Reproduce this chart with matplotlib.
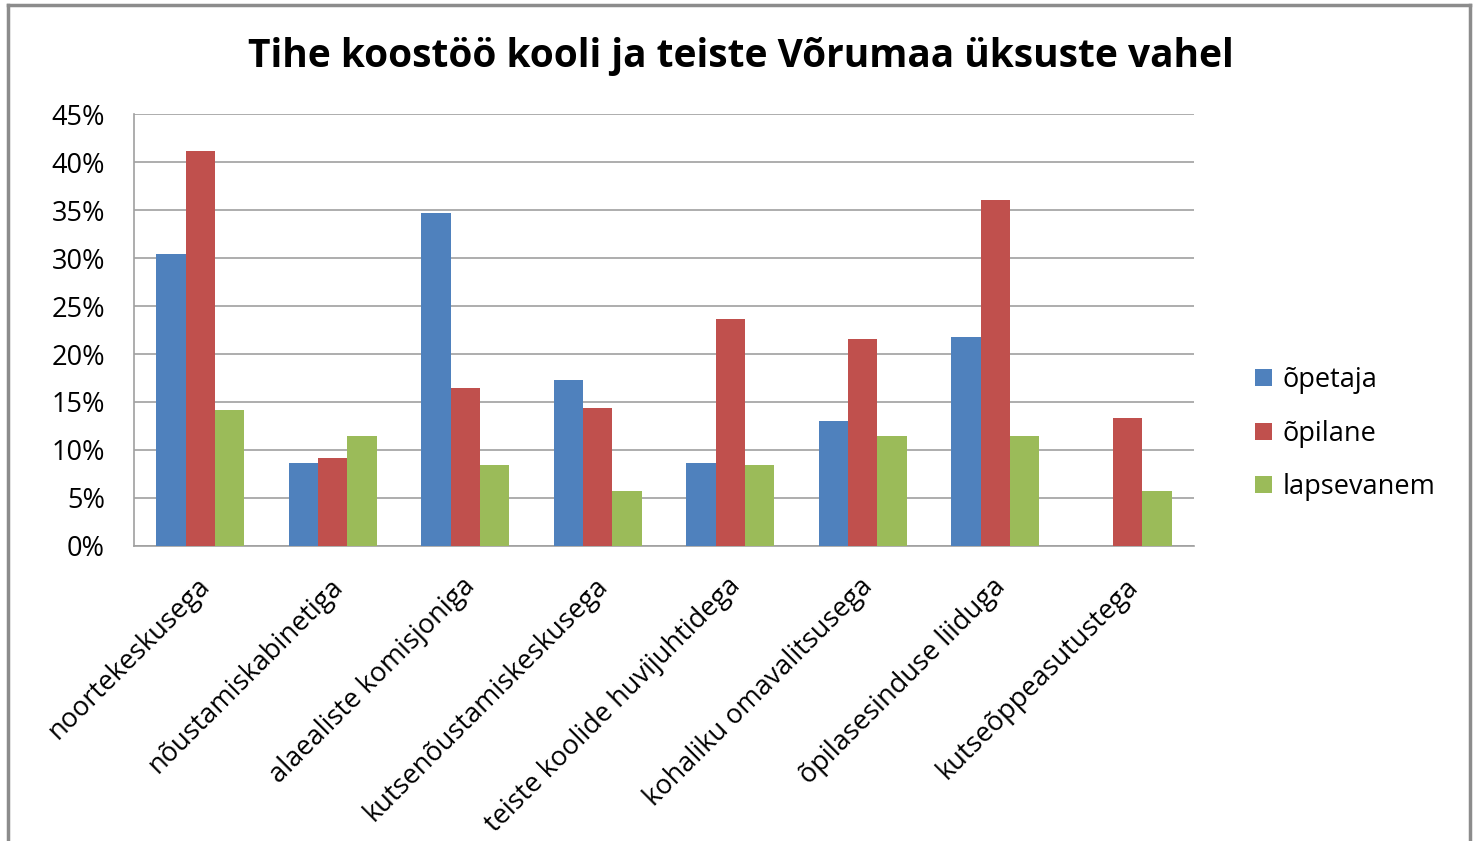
import matplotlib.pyplot as plt
import numpy as np
from matplotlib.lines import Line2D

plt.rcParams['font.family'] = ['Open Sans', 'DejaVu Sans']

# data
categories = ['noortekeskusega', 'nõustamiskabinetiga', 'alaealiste komisjoniga',
              'kutsenõustamiskeskusega', 'teiste koolide huvijuhtidega',
              'kohaliku omavalitsusega', 'õpilasesinduse liiduga', 'kutseõppeasutustega']
opetaja = [30.4, 8.6, 34.7, 17.3, 8.6, 13.0, 21.8, 0.0]
opilane = [41.1, 9.2, 16.5, 14.4, 23.6, 21.6, 36.0, 13.3]
lapsevanem = [14.2, 11.5, 8.4, 5.7, 8.4, 11.5, 11.5, 5.7]
series_names = ['õpetaja', 'õpilane', 'lapsevanem']
colors = ['#4F81BD', '#C0504D', '#9BBB59']

fig = plt.figure(figsize=(14.73, 8.41), dpi=100)
ax = fig.add_axes([0.091, 0.3508, 0.7196, 0.5136])

x = np.arange(len(categories))
w = 0.221
for i, (vals, name) in enumerate(zip([opetaja, opilane, lapsevanem], series_names)):
    ax.bar(x + (i - 1) * w, vals, w, color=colors[i], label=name, zorder=3)

ax.set_xlim(-0.5, len(categories) - 0.5)
ax.set_ylim(0, 45)
ax.set_yticks(np.arange(0, 46, 5))
ax.set_yticklabels([f'{v}%' for v in range(0, 46, 5)], fontsize=19.5)
ax.yaxis.grid(True, color='#A0A0A0', linewidth=1.2, zorder=0)
ax.tick_params(axis='y', length=0, pad=21)
ax.tick_params(axis='x', length=0)

ax.set_xticks(x - 0.03)
ax.set_xticklabels(categories, rotation=45, ha='right', rotation_mode='anchor', fontsize=19.5)
for lab in ax.get_xticklabels():
    lab.set_y(-0.05)

for s in ['top', 'right']:
    ax.spines[s].set_visible(False)
for s in ['left', 'bottom']:
    ax.spines[s].set_color('#A0A0A0')
    ax.spines[s].set_linewidth(1.2)

fig.text(0.503, 0.933, 'Tihe koostöö kooli ja teiste Võrumaa üksuste vahel',
         ha='center', va='center', fontsize=28, fontweight='bold')

ax.legend(loc='center left', bbox_to_anchor=(1.035, 0.26), frameon=False,
          fontsize=19.5, handlelength=0.6, handleheight=0.6, handletextpad=0.4,
          labelspacing=0.95)

# outer chart border
gray = '#8C8C8C'
fig.add_artist(Line2D([0.0055, 0.0055], [0, 0.994], color=gray, lw=2.5))
fig.add_artist(Line2D([0.0055, 0.998], [0.994, 0.994], color=gray, lw=2.5))
fig.add_artist(Line2D([0.998, 0.998], [0, 0.994], color=gray, lw=2.5))

fig.savefig('out.png', dpi=100)
